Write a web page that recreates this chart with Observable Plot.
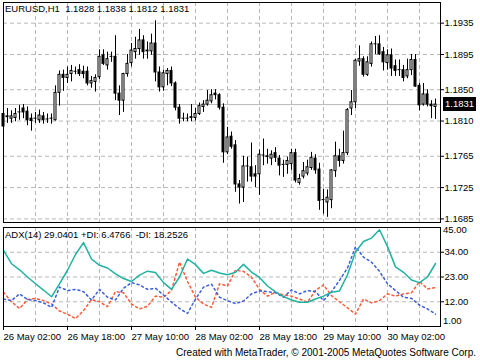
<!DOCTYPE html>
<html><head><meta charset="utf-8">
<script src="https://cdn.jsdelivr.net/npm/d3@7"></script>
<script src="https://cdn.jsdelivr.net/npm/@observablehq/plot@0.6"></script>
<style>
html,body{margin:0;padding:0;background:#fff;}
#wrap{position:relative;width:480px;height:360px;overflow:hidden;font-family:"Liberation Sans",Arial,sans-serif;font-size:9.5px;color:#000;}
.abs{position:absolute;white-space:pre;line-height:10px;}
#wrap svg{position:absolute;left:0;display:block;overflow:visible;}
.ind g[aria-label^="x-axis"] text{text-anchor:start;}
</style></head><body><div id="wrap"></div>
<script>
// ---- price data (H1 bars) ----
const opens=[1.1819,1.1816,1.1813,1.1814,1.1821,1.1826,1.1822,1.1813,1.1813,1.1811,
1.1816,1.1812,1.1813,1.1811,1.1846,1.1869,1.1865,1.1870,1.1873,1.1875,
1.1873,1.1873,1.1858,1.1860,1.1866,1.1894,1.1881,1.1892,1.1892,1.1845,
1.1836,1.1870,1.1884,1.1898,1.1902,1.1913,1.1900,1.1899,1.1909,1.1872,
1.1853,1.1870,1.1874,1.1858,1.1827,1.1813,1.1813,1.1814,1.1814,1.1819,
1.1828,1.1831,1.1835,1.1845,1.1843,1.1827,1.1770,1.1790,1.1779,1.1729,
1.1725,1.1752,1.1751,1.1742,1.1742,1.1766,1.1765,1.1762,1.1769,1.1762,
1.1754,1.1754,1.1755,1.1769,1.1731,1.1739,1.1743,1.1750,1.1762,1.1748,
1.1709,1.1706,1.1709,1.1746,1.1765,1.1759,1.1769,1.1826,1.1834,1.1886,
1.1889,1.1869,1.1883,1.1908,1.1908,1.1898,1.1884,1.1894,1.1880,1.1875,
1.1875,1.1867,1.1875,1.1888,1.1855,1.1831,1.1844,1.1831,1.1828];
const highs=[1.1823,1.1826,1.1823,1.1826,1.1830,1.1831,1.1828,1.1819,1.1821,1.1824,
1.1821,1.1819,1.1819,1.1855,1.1874,1.1875,1.1879,1.1881,1.1879,1.1882,
1.1880,1.1879,1.1867,1.1869,1.1901,1.1901,1.1898,1.1898,1.1919,1.1855,
1.1871,1.1895,1.1909,1.1917,1.1927,1.1919,1.1911,1.1921,1.1938,1.1879,
1.1875,1.1877,1.1879,1.1860,1.1831,1.1820,1.1819,1.1831,1.1826,1.1833,
1.1836,1.1849,1.1850,1.1850,1.1845,1.1832,1.1802,1.1796,1.1785,1.1734,
1.1765,1.1764,1.1782,1.1753,1.1773,1.1787,1.1774,1.1772,1.1776,1.1766,
1.1760,1.1764,1.1774,1.1774,1.1742,1.1757,1.1760,1.1770,1.1767,1.1756,
1.1723,1.1722,1.1748,1.1783,1.1774,1.1797,1.1826,1.1849,1.1889,1.1906,
1.1892,1.1892,1.1911,1.1918,1.1919,1.1904,1.1901,1.1902,1.1888,1.1888,
1.1881,1.1889,1.1895,1.1895,1.1858,1.1858,1.1850,1.1836,1.1838];
const lows=[1.1802,1.1807,1.1807,1.1809,1.1811,1.1813,1.1804,1.1797,1.1807,1.1807,
1.1806,1.1807,1.1806,1.1810,1.1829,1.1848,1.1858,1.1860,1.1869,1.1867,
1.1864,1.1855,1.1852,1.1847,1.1863,1.1881,1.1875,1.1885,1.1836,1.1817,
1.1821,1.1866,1.1879,1.1889,1.1894,1.1889,1.1889,1.1894,1.1860,1.1847,
1.1848,1.1855,1.1854,1.1823,1.1806,1.1809,1.1809,1.1809,1.1810,1.1817,
1.1821,1.1829,1.1832,1.1837,1.1824,1.1756,1.1767,1.1774,1.1719,1.1704,
1.1706,1.1732,1.1732,1.1725,1.1715,1.1753,1.1755,1.1753,1.1757,1.1740,
1.1738,1.1742,1.1747,1.1731,1.1728,1.1736,1.1740,1.1747,1.1742,1.1696,
1.1691,1.1687,1.1698,1.1738,1.1751,1.1755,1.1766,1.1817,1.1826,1.1880,
1.1866,1.1867,1.1879,1.1895,1.1894,1.1874,1.1875,1.1867,1.1867,1.1867,
1.1860,1.1864,1.1868,1.1853,1.1823,1.1829,1.1828,1.1813,1.1812];
const closes=[1.1803,1.1815,1.1816,1.1819,1.1821,1.1821,1.1811,1.1810,1.1813,1.1817,
1.1811,1.1812,1.1813,1.1846,1.1869,1.1865,1.1869,1.1874,1.1873,1.1870,
1.1870,1.1858,1.1861,1.1865,1.1892,1.1883,1.1889,1.1892,1.1845,1.1836,
1.1870,1.1883,1.1900,1.1902,1.1913,1.1898,1.1899,1.1909,1.1872,1.1853,
1.1871,1.1874,1.1858,1.1827,1.1813,1.1813,1.1813,1.1815,1.1819,1.1829,
1.1831,1.1836,1.1843,1.1843,1.1827,1.1770,1.1789,1.1777,1.1729,1.1725,
1.1752,1.1752,1.1739,1.1739,1.1767,1.1766,1.1764,1.1767,1.1763,1.1753,
1.1754,1.1759,1.1769,1.1734,1.1736,1.1746,1.1751,1.1763,1.1747,1.1708,
1.1709,1.1712,1.1747,1.1765,1.1759,1.1769,1.1824,1.1834,1.1887,1.1889,
1.1869,1.1885,1.1908,1.1908,1.1895,1.1885,1.1894,1.1877,1.1874,1.1875,
1.1865,1.1875,1.1888,1.1854,1.1830,1.1844,1.1831,1.1829,1.1831];
const lastPrice=1.1831;
const priceTicks=[1.1935,1.1895,1.1850,1.1810,1.1765,1.1725,1.1685];

// ---- time axis ----
const tickIdx=[0,16,32,48,64,80,96];
const tickLabels=["26 May 02:00","26 May 18:00","27 May 10:00","28 May 02:00","28 May 18:00","29 May 10:00","30 May 02:00"];

// ---- ADX(14), sampled every 2 bars ----
const adx=[34.8,28.9,26.2,23.0,20.0,17.2,14.2,19.9,26.0,33.0,
38.3,31.0,28.2,27.0,24.4,22.3,21.0,23.8,25.6,25.0,
20.5,17.5,23.0,31.0,28.5,24.6,26.0,24.8,24.0,25.1,
28.6,25.2,22.8,19.0,16.4,14.3,12.8,11.8,11.8,13.2,
14.5,16.2,16.8,24.0,34.1,38.8,40.3,44.0,36.5,27.5,
25.1,21.7,20.5,23.0,29.0];
const plusDI=[13.2,12.5,15.5,13.0,12.5,11.5,9.5,18.5,17.0,17.5,
16.5,12.8,17.5,14.0,12.8,18.0,20.5,19.5,17.5,18.0,
15.0,11.8,9.0,6.8,13.2,18.5,19.8,14.0,12.5,11.2,
12.3,15.5,16.8,16.5,16.0,14.0,17.3,15.5,17.0,16.5,
12.5,16.5,21.5,27.0,36.5,31.8,29.6,25.5,20.0,17.0,
14.0,13.5,10.5,8.8,6.5];
const minusDI=[16.2,12.0,9.0,13.0,13.5,12.5,11.0,7.9,6.5,4.5,
8.0,13.0,12.0,9.8,16.5,16.0,11.0,8.8,10.0,14.5,
14.0,17.0,29.6,21.0,14.0,11.0,9.5,20.0,19.0,26.0,
25.5,22.9,17.5,14.5,16.2,15.0,14.5,13.2,11.8,17.0,
19.5,14.7,12.0,9.3,6.5,13.2,11.5,12.5,15.5,14.5,
15.5,16.0,21.0,17.7,18.3];
const adxTicks=[34,23,12];
const adxEdgeTicks=[45,1];

const candles=opens.map((o,i)=>({i,o,h:highs[i],l:lows[i],c:closes[i]}));
const xDomain=[0,109.25];
const gridK=d3.range(8,109,8);
const gridColor="#b8b8b8";
const font={fontFamily:"Liberation Sans, Arial, sans-serif",fontSize:"9.5px",background:"transparent",overflow:"visible"};

const main=Plot.plot({
  width:480,height:224,marginTop:2,marginBottom:2,marginLeft:3,marginRight:40,
  style:font,
  x:{domain:xDomain,axis:null},
  y:{domain:[1.16804,1.19614],axis:"right",ticks:priceTicks,tickFormat:d3.format(".4f"),tickSize:3,tickPadding:1,label:null},
  marks:[
    Plot.ruleX(gridK,{stroke:gridColor,strokeDasharray:"4,3"}),
    Plot.ruleY(priceTicks,{stroke:gridColor,strokeDasharray:"4,3"}),
    Plot.ruleY([lastPrice],{stroke:gridColor}),
    Plot.ruleX(candles,{x:"i",y1:"l",y2:"h",stroke:"#000"}),
    Plot.rect(candles,{x1:d=>d.i-0.375,x2:d=>d.i+0.375,y1:"o",y2:"c",fill:"#000",insetTop:-0.5,insetBottom:-0.5}),
    Plot.rect(candles.filter(d=>d.c>d.o),{x1:d=>d.i-0.375,x2:d=>d.i+0.375,y1:"o",y2:"c",fill:"#fff",insetLeft:1,insetRight:1,insetTop:0.5,insetBottom:0.5}),
    Plot.frame({stroke:"#000"})
  ]
});
main.style.top="0px";

const ind=Plot.plot({
  width:480,height:124,marginTop:3,marginBottom:22,marginLeft:3,marginRight:40,
  style:font,
  x:{domain:xDomain,ticks:tickIdx,tickFormat:d=>tickLabels[tickIdx.indexOf(d)],tickSize:4,tickPadding:3,label:null},
  y:{domain:[1,45],axis:"right",ticks:adxTicks,tickFormat:d3.format(".2f"),tickSize:3,tickPadding:1,label:null},
  marks:[
    Plot.ruleX(gridK,{stroke:gridColor,strokeDasharray:"4,3"}),
    Plot.ruleY(adxTicks,{stroke:gridColor,strokeDasharray:"4,3"}),
    Plot.line(minusDI,{x:(d,i)=>i*2,y:d=>d,stroke:"#ff5a36",strokeDasharray:"2,3"}),
    Plot.line(plusDI,{x:(d,i)=>i*2,y:d=>d,stroke:"#3a5ee0",strokeDasharray:"2,3"}),
    Plot.line(adx,{x:(d,i)=>i*2,y:d=>d,stroke:"#20b2a0"}),
    Plot.frame({stroke:"#000"})
  ]
});
ind.classList.add("ind");
ind.style.top="224px";

const wrap=document.getElementById("wrap");
wrap.appendChild(main);
wrap.appendChild(ind);

function addText(t,css){const d=document.createElement("div");d.className="abs";d.textContent=t;Object.assign(d.style,css);wrap.appendChild(d);return d;}
addText("EURUSD,H1  "+[opens[108],highs[108],lows[108],closes[108]].map(v=>v.toFixed(4)).join(" "),{left:"5px",top:"3.5px"});
addText("ADX(14) 29.0401 +DI: 6.4766  -DI: 18.2526",{left:"5px",top:"230px"});
addText("Created with MetaTrader, \u00a9 2001-2005 MetaQuotes Software Corp.",{right:"4px",top:"347.5px",fontSize:"10px"});

// edge labels of the indicator scale (shifted inside the panel, as MetaTrader does)
const iy=ind.scale("y");
addText(adxEdgeTicks[0].toFixed(2),{left:"443px",top:(224+iy.apply(adxEdgeTicks[0])-2)+"px"});
addText(adxEdgeTicks[1].toFixed(2),{left:"443px",top:(224+iy.apply(adxEdgeTicks[1])-10)+"px"});

// current price marker placed via the y scale
const py=main.scale("y").apply(lastPrice);
addText(lastPrice.toFixed(4),{left:"443px",top:(py-7)+"px",width:"33px",height:"14px",lineHeight:"14px",background:"#000",color:"#fff",textAlign:"center"});
</script></body></html>
